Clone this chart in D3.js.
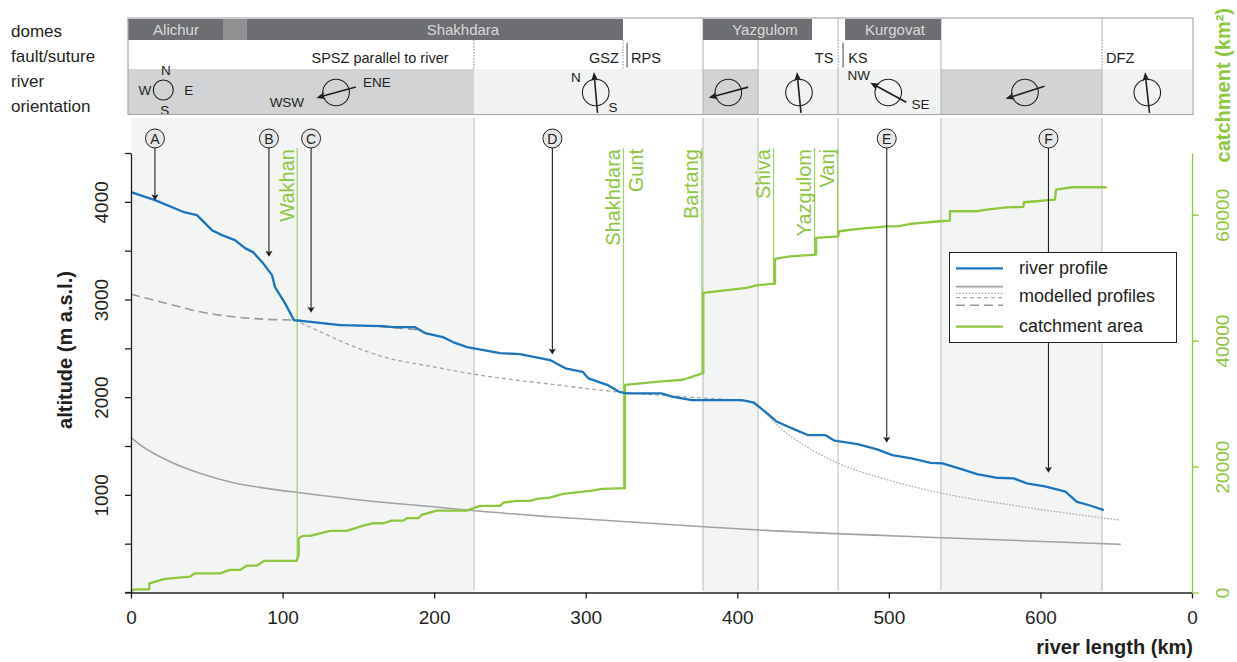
<!DOCTYPE html>
<html><head><meta charset="utf-8">
<script src="https://cdn.jsdelivr.net/npm/d3@7"></script>
<style>
body{margin:0;background:#fff;}
svg{font-family:"Liberation Sans",Arial,sans-serif;}
</style></head><body>
<svg id="c" width="1237" height="662"></svg>
<script>
// ---------------- DATA ----------------
const xTicks=[0,100,200,300,400,500,600,700];
const xTickLabels=['0','100','200','300','400','500','600','0'];
const altTicks=[0,500,1000,1500,2000,2500,3000,3500,4000,4500];
const altTickLabels=['','','1000','','2000','','3000','','4000',''];
const catchTicks=[0,20000,40000,60000];

// river profile [km, altitude m]
const riverProfile=[[0,4100],[15.8,4017],[34.3,3898],[43.5,3864],[53.4,3710],[60.0,3659],[68.6,3608],[75.2,3526],[80.5,3485],[87.1,3373],[93.0,3250],[95.0,3127],[101.6,2963],[107.5,2789],[120.1,2768],[137.9,2738],[166.3,2728],[172.9,2717],[187.4,2717],[194.0,2656],[205.8,2615],[212.4,2564],[221.7,2513],[243.5,2451],[256.6,2441],[266.5,2410],[276.4,2380],[286.6,2295],[298.0,2260],[301.8,2192],[314.5,2124],[322.0,2055],[327.2,2039],[350.0,2039],[357.6,2004],[370.1,1970],[403.1,1970],[410.9,1943],[418.6,1850],[426.2,1748],[438.8,1663],[446.5,1612],[457.9,1612],[464.2,1554],[479.4,1520],[492.2,1466],[502.3,1407],[514.9,1373],[527.7,1328],[535.3,1322],[547.9,1264],[558.2,1213],[570.7,1175],[582.3,1169],[591.1,1118],[603.7,1083],[616.5,1032],[624.1,929],[631.7,896],[641.9,844]];

// modelled profiles [km, altitude m]
const modelSolid=[[0,1590],[1.5,1568],[23.5,1356],[45.5,1220],[67.5,1124],[89.5,1066],[111.5,1021],[155.5,940],[199.4,878],[221.5,844],[276.4,776],[377.9,673],[414.2,640],[535,561],[653,493]];
const modelLongDash=[[0,3055],[23.5,2960],[45.5,2874],[67.3,2823],[89.5,2797],[107.7,2789],[133,2748],[166,2720],[191.8,2687]];
const modelShortDash=[[107.7,2789],[122.5,2687],[144.5,2533],[166.5,2413],[199.5,2311],[225.8,2236],[276.4,2134],[327.2,2045],[365,2004],[403.3,1963],[410.9,1953]];
const modelDotted=[[410.9,1953],[418.6,1834],[428.7,1680],[443.9,1510],[466.8,1322],[499.8,1151],[535.3,1015],[580.9,895],[651.8,742]];

// catchment area [km, km2]
const catchment=[[0,250],[2.6,500],[12.1,500],[12.1,1460],[22.4,2150],[38.9,2510],[42.2,3050],[58.7,3050],[65.3,3580],[71.9,3580],[76.3,4260],[82.9,4260],[87.7,5010],[109.3,5010],[110.6,5960],[110.6,8620],[113.3,8980],[118.1,8980],[131.3,9780],[142.3,9780],[153.3,10620],[159.9,11000],[166.5,11000],[172.0,11420],[179.7,11420],[181.9,11800],[189.6,11800],[191.8,12320],[199.4,12850],[201.7,13000],[221.5,13000],[230.3,13750],[243.5,13750],[245.6,14280],[254.5,14550],[263.2,14550],[267.7,14870],[276.4,15070],[285.0,15660],[304.3,16190],[310.7,16460],[325.9,16570],[325.9,32990],[350.0,33520],[364.0,33790],[377.6,34850],[377.6,47570],[406.2,48370],[412.8,48780],[424.9,49050],[424.9,52980],[434.8,53390],[452.0,53660],[452.0,56320],[466.6,56570],[467.1,57370],[479.9,57750],[498.6,58160],[506.2,58160],[514.0,58540],[533.7,58960],[540.3,59070],[540.3,60550],[558.0,60550],[564.6,60820],[577.7,61180],[588.7,61250],[589.2,61980],[597.6,62140],[605.2,62300],[609.6,62410],[610.3,64000],[620.7,64360],[643.7,64360]];

// tributaries joining (km)
const tributaries=[
 {name:'Wakhan',km:110.6,side:'left',below:5010},
 {name:'Shakhdara',km:325.9,side:'left',below:16570},
 {name:'Gunt',km:325.9,side:'right',below:16570},
 {name:'Bartang',km:377.6,side:'left',below:34850},
 {name:'Shiva',km:424.9,side:'left',below:49050},
 {name:'Yazgulom',km:452.0,side:'left',below:53660},
 {name:'Vanj',km:467.1,side:'left',below:56570}
];

// annotations
const markers=[
 {label:'A',km:15.8,alt:4017},{label:'B',km:91.0,alt:3437},{label:'C',km:118.8,alt:2864},
 {label:'D',km:278.0,alt:2438},{label:'E',km:498.6,alt:1533},{label:'F',km:605.3,alt:1226}
];

// shaded segments (km) and segment boundaries
const shadedSegments=[[0,226.3],[377.4,413.7],[534.4,640.6]];
const boundaries=[226.3,377.4,413.7,466.5,534.4,640.6];

// header: domes
const domes=[
 {name:'Alichur',from:-2,to:60.7,labelKm:29.7,kind:'dome'},
 {name:'',from:60.7,to:76.5,labelKm:null,kind:'minor'},
 {name:'Shakhdara',from:76.5,to:324.6,labelKm:219,kind:'dome'},
 {name:'Yazgulom',from:377.4,to:449.3,labelKm:418.3,kind:'dome'},
 {name:'Kurgovat',from:471.1,to:534.4,labelKm:504,kind:'dome'}
];
// header: faults / sutures
const faults=[
 {name:'SPSZ parallel to river',km:226.3,line:'dotted',labelKm:209.5,anchor:'end'},
 {name:'GSZ',km:324.6,line:'dotted',labelKm:321.9,anchor:'end'},
 {name:'RPS',km:327.3,line:'solid',labelKm:329.9,anchor:'start'},
 {name:'TS',km:466.5,line:'dotted',labelKm:463.4,anchor:'end'},
 {name:'KS',km:469.8,line:'solid',labelKm:473.2,anchor:'start'},
 {name:'DFZ',km:640.6,line:'dotted',labelKm:643.3,anchor:'start'}
];
// header: river orientation segments and arrow bearings (deg from N)
const orientSegments=[[-2,226.3,'dark'],[226.3,377.4,'light'],[377.4,413.7,'dark'],[413.7,534.4,'light'],[534.4,640.6,'dark'],[640.6,700,'light']];
const orientations=[
 {km:135.3,bearing:254.6,labels:['ENE','WSW']},
 {km:306.6,bearing:355,labels:['N','S']},
 {km:394.1,bearing:254.8,labels:[]},
 {km:440.7,bearing:354.4,labels:[]},
 {km:499.6,bearing:298.6,labels:['NW','SE']},
 {km:589.8,bearing:252,labels:[]},
 {km:670.5,bearing:353.8,labels:[]}
];
const compassKm=21.3;

// ---------------- DRAW ----------------
const ink='#231f20', green='#8dc63f', blue='#1c75bc';
const svg=d3.select('#c');
const x=d3.scaleLinear().domain([0,700]).range([131,1192]);
const y=d3.scaleLinear().domain([0,4500]).range([592.5,153]);
const yc=d3.scaleLinear().domain([0,69800]).range([592.5,153]);
const plotTop=118;

// shaded bands
svg.append('g').selectAll('rect').data(shadedSegments).join('rect')
 .attr('x',d=>x(d[0])).attr('width',d=>x(d[1])-x(d[0]))
 .attr('y',plotTop).attr('height',y(0)-plotTop).attr('fill','#f3f5f5');
svg.append('g').selectAll('line').data(boundaries).join('line')
 .attr('x1',d=>x(d)).attr('x2',d=>x(d)).attr('y1',plotTop).attr('y2',y(0)-2)
 .attr('stroke','#b5b7b9').attr('stroke-width',1);

// modelled profiles
const lineAlt=d3.line().x(d=>x(d[0])).y(d=>y(d[1]));
const lineSmooth=d3.line().x(d=>x(d[0])).y(d=>y(d[1])).curve(d3.curveMonotoneX);
svg.append('path').datum(modelSolid).attr('d',lineSmooth).attr('fill','none').attr('stroke','#a0a2a4').attr('stroke-width',1.6);
svg.append('path').datum(modelLongDash).attr('d',lineSmooth).attr('fill','none').attr('stroke','#96989a').attr('stroke-width',1.6).attr('stroke-dasharray','9,5');
svg.append('path').datum(modelShortDash).attr('d',lineSmooth).attr('fill','none').attr('stroke','#a8aaac').attr('stroke-width',1.4).attr('stroke-dasharray','4,3');
svg.append('path').datum(modelDotted).attr('d',lineSmooth).attr('fill','none').attr('stroke','#a8aaac').attr('stroke-width',1.3).attr('stroke-dasharray','1.6,1.6');

// tributary thin lines + labels
const tg=svg.append('g');
tg.selectAll('line').data(tributaries.filter(d=>d.side==='left')).join('line')
 .attr('x1',d=>x(d.km)-1.5).attr('x2',d=>x(d.km)-1.5).attr('y1',148).attr('y2',d=>yc(d.below))
 .attr('stroke','#9fd05f').attr('stroke-width',1.2);
tg.selectAll('text').data(tributaries).join('text')
 .attr('transform',d=>`translate(${x(d.km)+(d.side==='left'?-4:18.5)},149) rotate(-90)`)
 .attr('text-anchor','end').attr('dy',d=>d.side==='left'?'-0.05em':'0')
 .style('font-size','20px').attr('fill',green).text(d=>d.name);

// catchment
const lineC=d3.line().x(d=>x(d[0])).y(d=>yc(d[1]));
svg.append('path').datum(catchment).attr('d',lineC).attr('fill','none').attr('stroke',green).attr('stroke-width',2.3).attr('stroke-linejoin','round');

// river profile
svg.append('path').datum(riverProfile).attr('d',lineAlt).attr('fill','none').attr('stroke',blue).attr('stroke-width',2.3).attr('stroke-linejoin','round');

// markers
const mg=svg.append('g');
markers.forEach(m=>{
  const cx=x(m.km), ty=y(m.alt);
  mg.append('line').attr('x1',cx).attr('x2',cx).attr('y1',148).attr('y2',ty-4).attr('stroke',ink).attr('stroke-width',1.1);
  mg.append('path').attr('d',`M${cx},${ty} L${cx-3.6},${ty-6} L${cx},${ty-4.5} L${cx+3.6},${ty-6} Z`).attr('fill',ink);
  mg.append('circle').attr('cx',cx).attr('cy',138.5).attr('r',9.5).attr('fill','#e6e7e8').attr('stroke',ink).attr('stroke-width',1);
  mg.append('text').attr('x',cx).attr('y',143.5).attr('text-anchor','middle').style('font-size','14px').attr('fill',ink).text(m.label);
});

// axes
const gx=svg.append('g').attr('transform',`translate(0,${y(0)})`)
 .call(d3.axisBottom(x).tickValues(xTicks).tickFormat((d,i)=>xTickLabels[i]).tickSize(6).tickSizeOuter(0));
gx.selectAll('text').attr('y',31).attr('dy',0).style('font-size','19px').attr('fill',ink).style('font-family','"Liberation Sans",Arial,sans-serif');
gx.selectAll('line,path').attr('stroke',ink).attr('stroke-width',1.3);
svg.append('line').attr('x1',125).attr('x2',x(0)).attr('y1',y(0)).attr('y2',y(0)).attr('stroke',ink).attr('stroke-width',1.3);

const gy=svg.append('g').attr('transform',`translate(${x(0)},0)`)
 .call(d3.axisLeft(y).tickValues(altTicks).tickFormat((d,i)=>altTickLabels[i]).tickSize(6).tickSizeOuter(0));
gy.selectAll('text').attr('x',0).attr('y',-23).attr('dy',0).attr('text-anchor','middle').attr('transform','rotate(-90)')
 .style('font-size','19px').attr('fill',ink).style('font-family','"Liberation Sans",Arial,sans-serif');
gy.selectAll('line,path').attr('stroke',ink).attr('stroke-width',1.3);

const gc=svg.append('g').attr('transform',`translate(${x(700)},0)`)
 .call(d3.axisRight(yc).tickValues(catchTicks).tickFormat(d3.format('d')).tickSize(7).tickSizeOuter(0));
gc.selectAll('text').attr('x',0).attr('y',37).attr('dy',0).attr('text-anchor','middle').attr('transform','rotate(-90)')
 .style('font-size','19px').attr('fill',green).style('font-family','"Liberation Sans",Arial,sans-serif');
gc.selectAll('line,path').attr('stroke',green).attr('stroke-width',1.3);

// axis titles
svg.append('text').attr('transform','translate(72,350) rotate(-90)').attr('text-anchor','middle')
 .style('font-size','20px').style('font-weight','bold').attr('fill',ink).text('altitude (m a.s.l.)');
svg.append('text').attr('x',1193).attr('y',654).attr('text-anchor','end')
 .style('font-size','20px').style('font-weight','bold').attr('fill',ink).text('river length (km)');
svg.append('text').attr('transform','translate(1230,8) rotate(-90)').attr('text-anchor','end')
 .style('font-size','20px').style('font-weight','bold').attr('fill',green).text('catchment (km²)');

// legend
const lg=svg.append('g');
lg.append('rect').attr('x',949.5).attr('y',252.5).attr('width',227).attr('height',90).attr('fill','#fff').attr('stroke',ink).attr('stroke-width',1);
const lx1=956,lx2=1003;
lg.append('line').attr('x1',lx1).attr('x2',lx2).attr('y1',268.3).attr('y2',268.3).attr('stroke',blue).attr('stroke-width',2.3);
lg.append('line').attr('x1',lx1).attr('x2',lx2).attr('y1',286.7).attr('y2',286.7).attr('stroke','#a0a2a4').attr('stroke-width',1.8);
lg.append('line').attr('x1',lx1).attr('x2',lx2).attr('y1',293.3).attr('y2',293.3).attr('stroke','#a8aaac').attr('stroke-width',1.3).attr('stroke-dasharray','1.6,1.6');
lg.append('line').attr('x1',lx1).attr('x2',lx2).attr('y1',297.6).attr('y2',297.6).attr('stroke','#a8aaac').attr('stroke-width',1.3).attr('stroke-dasharray','4,3');
lg.append('line').attr('x1',lx1).attr('x2',lx2).attr('y1',305.3).attr('y2',305.3).attr('stroke','#96989a').attr('stroke-width',1.6).attr('stroke-dasharray','9,5');
lg.append('line').attr('x1',lx1).attr('x2',lx2).attr('y1',326.7).attr('y2',326.7).attr('stroke',green).attr('stroke-width',2.3);
[['river profile',273.5],['modelled profiles',301.5],['catchment area',331.5]].forEach(t=>{
  lg.append('text').attr('x',1019).attr('y',t[1]).style('font-size','18px').attr('fill',ink).text(t[0]);
});

// ---------------- HEADER ----------------
const hg=svg.append('g');
const hx0=128, hx1=1193, hTop=18, rowF=40, rowO=69, hBot=114.5;
hg.append('rect').attr('x',hx0).attr('y',hTop).attr('width',hx1-hx0).attr('height',hBot-hTop).attr('fill','#fff');
// orientation row shading
hg.selectAll('rect.o').data(orientSegments).join('rect').attr('class','o')
 .attr('x',d=>Math.max(hx0,x(d[0]))).attr('width',d=>Math.min(hx1,x(d[1]))-Math.max(hx0,x(d[0])))
 .attr('y',rowO).attr('height',hBot-rowO).attr('fill',d=>d[2]==='dark'?'#d1d3d4':'#f1f2f2');
// separators
[377.4,413.7,534.4].forEach(k=>{
  hg.append('line').attr('x1',x(k)).attr('x2',x(k)).attr('y1',hTop).attr('y2',hBot).attr('stroke','#b0b2b4').attr('stroke-width',1);
});
[466.5,640.6].forEach(k=>{
  hg.append('line').attr('x1',x(k)).attr('x2',x(k)).attr('y1',hTop).attr('y2',rowF).attr('stroke','#b0b2b4');
  hg.append('line').attr('x1',x(k)).attr('x2',x(k)).attr('y1',rowO).attr('y2',hBot).attr('stroke','#b0b2b4');
});
// domes
hg.selectAll('rect.d').data(domes).join('rect').attr('class','d')
 .attr('x',d=>Math.max(hx0,x(d.from))).attr('width',d=>x(d.to)-Math.max(hx0,x(d.from)))
 .attr('y',hTop+1).attr('height',rowF-hTop-1).attr('fill',d=>d.kind==='dome'?'#6d6e71':'#8f9092');
hg.selectAll('text.d').data(domes.filter(d=>d.name)).join('text').attr('class','d')
 .attr('x',d=>x(d.labelKm)).attr('y',35).attr('text-anchor','middle').style('font-size','15px').attr('fill','#d9d9da').text(d=>d.name);
// faults
faults.forEach(f=>{
  hg.append('line').attr('x1',x(f.km)).attr('x2',x(f.km)).attr('y1',f.line==='dotted'?rowF:42.7).attr('y2',f.line==='dotted'?rowO:67.5)
   .attr('stroke',f.line==='dotted'?'#8a8c8e':'#6d6e71').attr('stroke-width',f.line==='dotted'?1:1.3)
   .attr('stroke-dasharray',f.line==='dotted'?'1.5,1.5':null);
  hg.append('text').attr('x',x(f.labelKm)).attr('y',63).attr('text-anchor',f.anchor).style('font-size','14.5px').attr('fill',ink).text(f.name);
});
// orientation symbols (clipped at the bottom of the header)
svg.append('clipPath').attr('id','orow').append('rect').attr('x',hx0).attr('y',55).attr('width',hx1-hx0).attr('height',hBot-55);
const og=hg.append('g').attr('clip-path','url(#orow)');
const cyO=92.5;
// compass legend
{
  const cx=x(compassKm), cy=90;
  og.append('circle').attr('cx',cx).attr('cy',cy).attr('r',10).attr('fill','none').attr('stroke',ink).attr('stroke-width',1.1);
  [['N',2.5,-15.3],['S',1.5,24.8],['W',-18.5,5],['E',25.5,5]].forEach(t=>{
    og.append('text').attr('x',cx+t[1]).attr('y',cy+t[2]).attr('text-anchor','middle').style('font-size','13.5px').attr('fill',ink).text(t[0]);
  });
}
const labelOffsets={ENE:[40.8,-5.2],WSW:[-49.2,14.2],N:[-19.9,-10.8],S:[17.3,19.2],NW:[-29.6,-12.5],SE:[32.2,16.8]};
orientations.forEach(o=>{
  const cx=x(o.km), cy=cyO, r=13.3, half=20.5;
  const b=o.bearing*Math.PI/180, sx=Math.sin(b), sy=-Math.cos(b);
  og.append('circle').attr('cx',cx).attr('cy',cy).attr('r',r).attr('fill','none').attr('stroke',ink).attr('stroke-width',1.1);
  const tipX=cx+half*sx, tipY=cy+half*sy, tailX=cx-half*sx, tailY=cy-half*sy;
  og.append('line').attr('x1',tailX).attr('y1',tailY).attr('x2',tipX-6*sx).attr('y2',tipY-6*sy).attr('stroke',ink).attr('stroke-width',1.6);
  const px=-sy, py=sx;
  const bx=tipX-9*sx, by=tipY-9*sy;
  og.append('path').attr('d',`M${tipX},${tipY} L${bx+3.6*px},${by+3.6*py} L${tipX-6.5*sx},${tipY-6.5*sy} L${bx-3.6*px},${by-3.6*py} Z`).attr('fill',ink);
  o.labels.forEach(l=>{
    const off=labelOffsets[l];
    og.append('text').attr('x',cx+off[0]).attr('y',cy+off[1]).attr('text-anchor','middle').style('font-size','13.5px').attr('fill',ink).text(l);
  });
});
// header frame
hg.append('rect').attr('x',hx0).attr('y',hTop).attr('width',hx1-hx0).attr('height',hBot-hTop).attr('fill','none').attr('stroke','#a7a9ac').attr('stroke-width',1.2);

// row labels
[['domes',37],['fault/suture',62],['river',87],['orientation',111.5]].forEach(t=>{
  svg.append('text').attr('x',11).attr('y',t[1]).style('font-size','17px').attr('fill',ink).text(t[0]);
});
</script>
</body></html>
